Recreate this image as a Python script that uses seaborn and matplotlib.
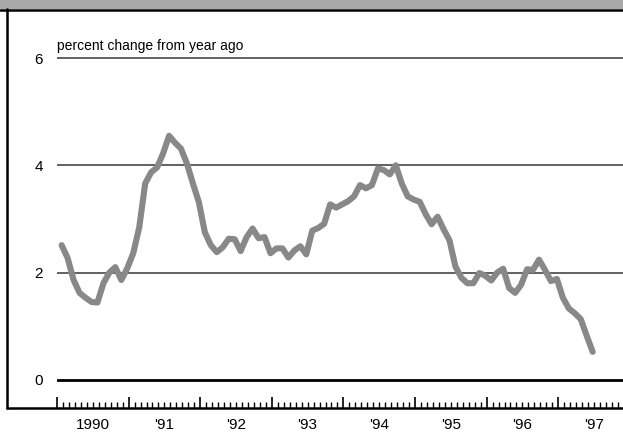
import numpy as np
import pandas as pd
import matplotlib
matplotlib.use("Agg")
import matplotlib.pyplot as plt
import seaborn as sns
from matplotlib.lines import Line2D
from matplotlib.patches import Rectangle
from matplotlib.ticker import MultipleLocator

# ---- data (monthly, Jan 1990 - Jun 1997), percent change from year ago ----
start_year = 1990
pct_change = [
    2.51, 2.27, 1.86, 1.62, 1.53, 1.45, 1.44, 1.80, 2.00, 2.10, 1.86, 2.08,   # 1990
    2.36, 2.84, 3.66, 3.87, 3.96, 4.22, 4.55, 4.42, 4.31, 4.03, 3.66, 3.31,   # 1991
    2.75, 2.51, 2.38, 2.47, 2.63, 2.62, 2.40, 2.66, 2.82, 2.64, 2.66, 2.36,   # 1992
    2.45, 2.45, 2.28, 2.41, 2.49, 2.34, 2.78, 2.83, 2.91, 3.27, 3.21, 3.27,   # 1993
    3.33, 3.42, 3.63, 3.57, 3.63, 3.94, 3.91, 3.83, 4.00, 3.66, 3.42, 3.36,   # 1994
    3.32, 3.09, 2.90, 3.04, 2.81, 2.60, 2.11, 1.90, 1.80, 1.80, 1.99, 1.94,   # 1995
    1.85, 2.00, 2.07, 1.71, 1.62, 1.77, 2.06, 2.05, 2.24, 2.05, 1.84, 1.88,   # 1996
    1.53, 1.33, 1.24, 1.13, 0.82, 0.52,                                       # 1997
]
year_labels = ["1990", "'91", "'92", "'93", "'94", "'95", "'96", "'97"]
y_ticks = [0, 2, 4, 6]
y_label = "percent change from year ago"

months = np.arange(len(pct_change))
df = pd.DataFrame({
    "date": start_year + (months + 0.78) / 12.0,
    "pct": pct_change,
})

sns.set_style("white")
plt.rcParams['font.family'] = ['Liberation Sans', 'DejaVu Sans']

W, H = 623, 437
fig = plt.figure(figsize=(W / 100, H / 100), dpi=100)
fig.patch.set_facecolor("white")

# axes: x from 57px to 623px, y from 11px (top) to 408px (bottom)
ax = fig.add_axes([57 / W, (H - 408) / H, (623 - 57) / W, (408 - 11) / H])
ax.set_facecolor("white")

# grid lines
for v in y_ticks:
    if v == 0:
        ax.axhline(v, color="black", lw=2.0, zorder=1)
    else:
        ax.axhline(v, color="#555555", lw=1.3, zorder=1)

sns.lineplot(data=df, x="date", y="pct", ax=ax, color="#888888", lw=4.4,
             zorder=3, legend=False)

n_years = len(year_labels)
ax.set_xlim(start_year, start_year + (623 - 57) / 71.6)
ax.set_ylim(-(408.3 - 380) / 53.65, (380 - 11) / 53.65)

# ticks
ax.set_xticks([start_year + i for i in range(n_years)])
ax.set_xticklabels([""] * n_years)
ax.xaxis.set_minor_locator(MultipleLocator(1 / 12))
ax.tick_params(axis="x", which="major", direction="in", length=8, width=1.2,
               color="black", bottom=True)
ax.tick_params(axis="x", which="minor", direction="in", length=4, width=1.0,
               color="black", bottom=True)

ax.set_yticks(y_ticks)
ax.set_yticklabels([str(v) for v in y_ticks])
ax.tick_params(axis="y", length=0, pad=10, labelsize=11, labelcolor="black")

# year labels centered mid-year via secondary axis
sec = ax.secondary_xaxis("bottom")
sec.set_xticks([start_year + i + 0.5 for i in range(n_years)])
sec.set_xticklabels(year_labels)
sec.tick_params(length=0, pad=7, labelsize=11, labelcolor="black")
for s in sec.spines.values():
    s.set_visible(False)

for side in ["top", "right", "left", "bottom"]:
    ax.spines[side].set_visible(False)

ax.set_xlabel("")
ax.set_ylabel("")
ax.text(0.0, (408 - 50) / 397, y_label, transform=ax.transAxes,
        ha="left", va="baseline", fontsize=10, color="black")

# frame: header band, header line, left border, bottom line
fig.patches.append(Rectangle((0, (H - 9) / H), 1, 9 / H, transform=fig.transFigure,
                             facecolor="#a8a8a8", edgecolor="none", zorder=0))
fig.lines.append(Line2D([0, 1], [(H - 10) / H] * 2, transform=fig.transFigure,
                        color="black", lw=1.8))
fig.lines.append(Line2D([6.5 / W] * 2, [(H - 408.3) / H, (H - 9) / H],
                        transform=fig.transFigure, color="black", lw=1.8))
fig.lines.append(Line2D([6.5 / W, 1], [(H - 408.3) / H] * 2,
                        transform=fig.transFigure, color="black", lw=1.8))

fig.savefig("out.png", dpi=100)
